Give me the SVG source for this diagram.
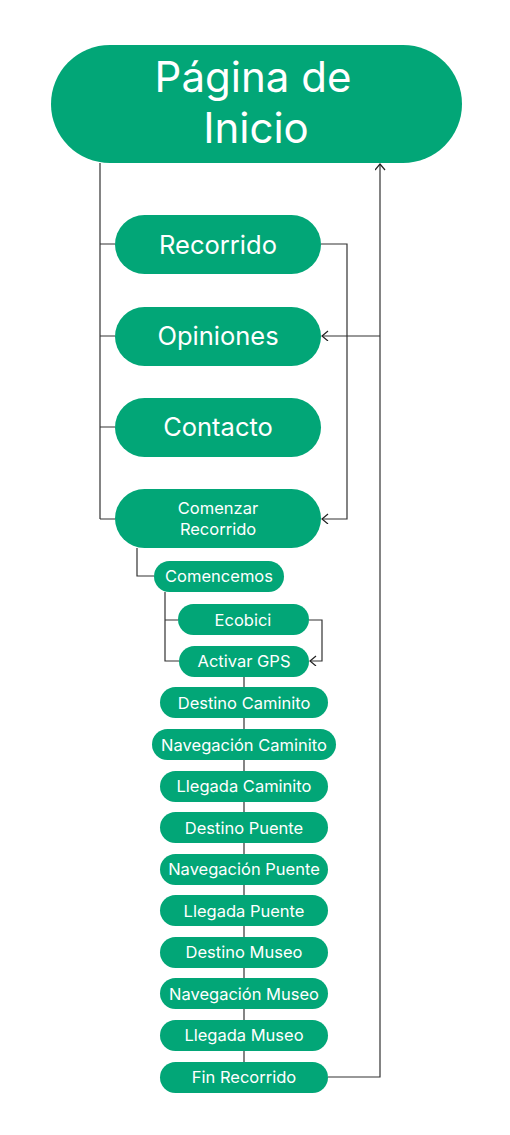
<svg xmlns="http://www.w3.org/2000/svg" width="510" height="1135" viewBox="0 0 510 1135">
<style>
.n{fill:#02A677}
.t{fill:#fff;font-family:Inter,"DejaVu Sans",sans-serif;text-anchor:middle}
.s{font-size:16.5px}
.m{font-size:25.5px}
.c{fill:none;stroke:#333;stroke-width:1.2}
</style>
<defs>
<marker id="ah" markerUnits="userSpaceOnUse" markerWidth="10" markerHeight="12" refX="7" refY="5" orient="auto">
<path d="M1,0 L7,5 L1,10" fill="none" stroke="#222" stroke-width="1.2"/>
</marker>
</defs>
<rect width="510" height="1135" fill="#fff"/>
<g id="connectors">
<path class="c" d="M100,163 V519 M100,244 H115 M100,336 H115 M100,427 H115 M100,519 H115"/>
<path class="c" d="M321,244 H347 V519 H322" marker-end="url(#ah)"/>
<path class="c" d="M380,336 H322" marker-end="url(#ah)"/>
<path class="c" d="M328,1077 H380 V164" marker-end="url(#ah)"/>
<path class="c" d="M137,548 V576 H154"/>
<path class="c" d="M165,592 V661 H179 M165,620 H178"/>
<path class="c" d="M309,620 H322 V661 H310" marker-end="url(#ah)"/>
<path class="c" d="M244,677 V1062"/>
</g>
<g id="n-inicio"><rect class="n" x="51" y="45" width="411" height="118" rx="59"/><text class="t" x="253" y="92" font-size="42">Página de</text><text class="t" x="256" y="143" font-size="42">Inicio</text></g>
<g id="n-recorrido"><rect class="n" x="115" y="215" width="206" height="59" rx="29.5"/><text class="t m" x="218" y="254">Recorrido</text></g>
<g id="n-opiniones"><rect class="n" x="115" y="307" width="206" height="59" rx="29.5"/><text class="t m" x="218" y="345">Opiniones</text></g>
<g id="n-contacto"><rect class="n" x="115" y="398" width="206" height="59" rx="29.5"/><text class="t m" x="218" y="436">Contacto</text></g>
<g id="n-comenzar"><rect class="n" x="115" y="489" width="206" height="59" rx="29.5"/><text class="t s" x="218" y="514">Comenzar</text><text class="t s" x="218" y="535">Recorrido</text></g>
<g id="n-comencemos"><rect class="n" x="154" y="561" width="130" height="31" rx="15.5"/><text class="t s" x="219" y="582">Comencemos</text></g>
<g id="n-ecobici"><rect class="n" x="178" y="604" width="131" height="31" rx="15.5"/><text class="t s" x="243" y="625.5">Ecobici</text></g>
<g id="n-gps"><rect class="n" x="179" y="646" width="130" height="31" rx="15.5"/><text class="t s" x="244" y="667">Activar GPS</text></g>
<g id="n-dc"><rect class="n" x="160" y="687" width="168" height="31" rx="15.5"/><text class="t s" x="244" y="708.5">Destino Caminito</text></g>
<g id="n-nc"><rect class="n" x="152" y="729" width="184" height="31" rx="15.5"/><text class="t s" x="244" y="750.5">Navegación Caminito</text></g>
<g id="n-lc"><rect class="n" x="160" y="771" width="168" height="31" rx="15.5"/><text class="t s" x="244" y="792">Llegada Caminito</text></g>
<g id="n-dp"><rect class="n" x="160" y="812" width="168" height="31" rx="15.5"/><text class="t s" x="244" y="833.5">Destino Puente</text></g>
<g id="n-np"><rect class="n" x="160" y="854" width="168" height="31" rx="15.5"/><text class="t s" x="244" y="875">Navegación Puente</text></g>
<g id="n-lp"><rect class="n" x="160" y="895" width="168" height="31" rx="15.5"/><text class="t s" x="244" y="916.5">Llegada Puente</text></g>
<g id="n-dm"><rect class="n" x="160" y="937" width="168" height="31" rx="15.5"/><text class="t s" x="244" y="958">Destino Museo</text></g>
<g id="n-nm"><rect class="n" x="160" y="978" width="168" height="31" rx="15.5"/><text class="t s" x="244" y="999.5">Navegación Museo</text></g>
<g id="n-lm"><rect class="n" x="160" y="1020" width="168" height="31" rx="15.5"/><text class="t s" x="244" y="1041">Llegada Museo</text></g>
<g id="n-fin"><rect class="n" x="160" y="1062" width="168" height="31" rx="15.5"/><text class="t s" x="244" y="1083">Fin Recorrido</text></g>
</svg>
